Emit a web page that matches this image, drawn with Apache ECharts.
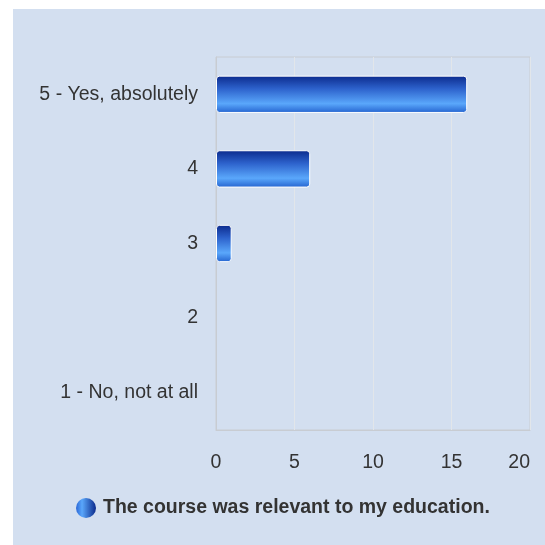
<!DOCTYPE html>
<html>
<head>
<meta charset="utf-8">
<script src="https://cdn.jsdelivr.net/npm/echarts@6/dist/echarts.min.js"></script>
<style>
  html, body { margin: 0; padding: 0; background: #ffffff; }
  #chart { position: absolute; left: 13px; top: 9px; width: 532px; height: 536px; }
</style>
</head>
<body>
<div id="chart"></div>
<script>
// Survey answers (top to bottom) and the number of responses for each
const categories = ['5 - Yes, absolutely', '4', '3', '2', '1 - No, not at all'];
const counts = [16, 6, 1, 0, 0];
const seriesName = 'The course was relevant to my education.';
const xTicks = [0, 5, 10, 15, 20];

const FONT = 'Liberation Sans, Arial, sans-serif';

const barGradient = new echarts.graphic.LinearGradient(0, 0, 0, 1, [
  { offset: 0, color: '#0b2a8c' },
  { offset: 0.35, color: '#2d62cc' },
  { offset: 0.75, color: '#5aa7fb' },
  { offset: 1, color: '#2463cf' }
]);
const iconGradient = new echarts.graphic.LinearGradient(0, 0, 1, 0, [
  { offset: 0, color: '#2a66d6' },
  { offset: 0.3, color: '#5aa7fb' },
  { offset: 1, color: '#0b2a8c' }
]);

// empty answers get no outline so nothing shows for them
const barData = counts.map(v => ({
  value: v,
  itemStyle: v === 0 ? { borderWidth: 0 } : {}
}));

const chart = echarts.init(document.getElementById('chart'), null, { renderer: 'canvas' });
chart.setOption({
  backgroundColor: '#d3dff0',
  animation: false,
  textStyle: { fontFamily: FONT },
  grid: { left: 203, top: 48, right: 15, bottom: 115, containLabel: false },
  legend: {
    left: 58,
    top: 484,
    icon: 'circle',
    itemWidth: 20,
    itemHeight: 20,
    itemGap: 7,
    data: [{ name: seriesName, itemStyle: { color: iconGradient, borderWidth: 0 } }],
    textStyle: { fontSize: 19.5, fontWeight: 'bold', color: '#333333', fontFamily: FONT, padding: [0, 0, 0, 2] }
  },
  xAxis: {
    type: 'value',
    min: xTicks[0],
    max: xTicks[xTicks.length - 1],
    interval: xTicks[1] - xTicks[0],
    axisLine: { show: true, lineStyle: { color: '#c8ccd2', width: 1 } },
    axisTick: { show: false },
    axisLabel: { fontSize: 19.5, color: '#333333', margin: 23, alignMaxLabel: 'right' },
    splitLine: { show: true, lineStyle: { color: '#e2e6ea', width: 1 } }
  },
  yAxis: {
    type: 'category',
    inverse: true,
    data: categories,
    axisLine: { show: true, lineStyle: { color: '#c8ccd2', width: 1 } },
    axisTick: { show: false },
    axisLabel: { fontSize: 19.5, color: '#333333', margin: 18, padding: [4, 0, 0, 0] },
    splitLine: { show: false }
  },
  series: [{
    name: seriesName,
    type: 'bar',
    data: barData,
    barWidth: '50%',
    itemStyle: {
      color: barGradient,
      borderColor: '#ffffff',
      borderWidth: 1,
      borderRadius: 3
    }
  }],
  graphic: [{
    type: 'rect',
    silent: true,
    shape: { x: 203, y: 48, width: 314, height: 373 },
    style: { fill: 'none', stroke: '#c8ccd2', lineWidth: 1 },
    z: 0
  }]
});
</script>
</body>
</html>
